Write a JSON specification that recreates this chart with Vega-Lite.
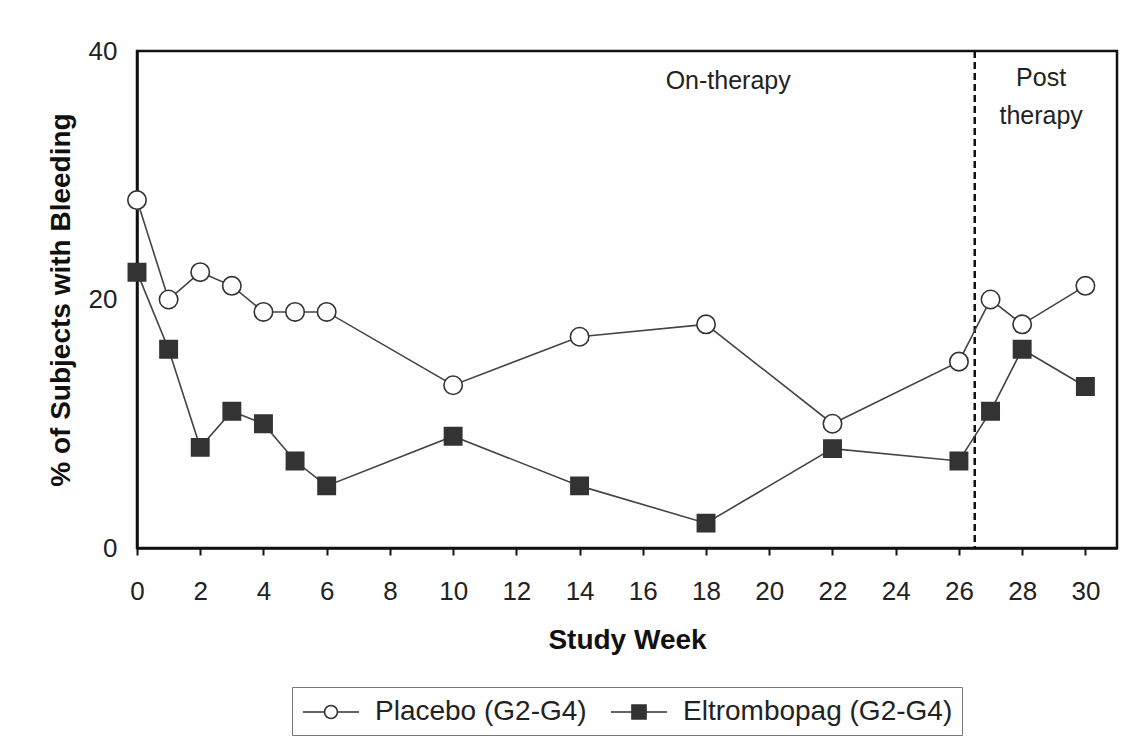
{
  "$schema": "https://vega.github.io/schema/vega-lite/v6.json",
  "width": 980,
  "height": 497,
  "autosize": {"type": "none"},
  "padding": {"left": 137, "top": 51, "right": 29, "bottom": 192},
  "background": "white",
  "config": {
    "font": "Liberation Sans",
    "view": {"stroke": "#111", "strokeWidth": 2.5},
    "axis": {"domainColor": "#111", "domainWidth": 2.5, "grid": false, "labelFont": "Liberation Sans", "titleFont": "Liberation Sans", "labelColor": "#222", "titleColor": "#111"},
    "legend": {
      "title": null, "orient": "none", "direction": "horizontal", "legendX": 155, "legendY": 636,
      "padding": 9, "strokeColor": "#777", "fillColor": "white",
      "symbolSize": 900, "symbolOffset": 14, "symbolStrokeColor": "#333", "symbolStrokeWidth": 1.6, "symbolOpacity": 1,
      "labelFont": "Liberation Sans", "labelFontSize": 28, "labelColor": "#222", "labelOffset": 28, "columnPadding": 20,
      "labelLimit": 400
    }
  },
  "datasets": {
    "bleeding": [
      {"week": 0, "pct": 28, "series": "Placebo (G2-G4)"},
      {"week": 1, "pct": 20, "series": "Placebo (G2-G4)"},
      {"week": 2, "pct": 22.2, "series": "Placebo (G2-G4)"},
      {"week": 3, "pct": 21.1, "series": "Placebo (G2-G4)"},
      {"week": 4, "pct": 19, "series": "Placebo (G2-G4)"},
      {"week": 5, "pct": 19, "series": "Placebo (G2-G4)"},
      {"week": 6, "pct": 19, "series": "Placebo (G2-G4)"},
      {"week": 10, "pct": 13.1, "series": "Placebo (G2-G4)"},
      {"week": 14, "pct": 17, "series": "Placebo (G2-G4)"},
      {"week": 18, "pct": 18, "series": "Placebo (G2-G4)"},
      {"week": 22, "pct": 10, "series": "Placebo (G2-G4)"},
      {"week": 26, "pct": 15, "series": "Placebo (G2-G4)"},
      {"week": 27, "pct": 20, "series": "Placebo (G2-G4)"},
      {"week": 28, "pct": 18, "series": "Placebo (G2-G4)"},
      {"week": 30, "pct": 21.1, "series": "Placebo (G2-G4)"},
      {"week": 0, "pct": 22.2, "series": "Eltrombopag (G2-G4)"},
      {"week": 1, "pct": 16, "series": "Eltrombopag (G2-G4)"},
      {"week": 2, "pct": 8.1, "series": "Eltrombopag (G2-G4)"},
      {"week": 3, "pct": 11, "series": "Eltrombopag (G2-G4)"},
      {"week": 4, "pct": 10, "series": "Eltrombopag (G2-G4)"},
      {"week": 5, "pct": 7, "series": "Eltrombopag (G2-G4)"},
      {"week": 6, "pct": 5, "series": "Eltrombopag (G2-G4)"},
      {"week": 10, "pct": 9, "series": "Eltrombopag (G2-G4)"},
      {"week": 14, "pct": 5, "series": "Eltrombopag (G2-G4)"},
      {"week": 18, "pct": 2, "series": "Eltrombopag (G2-G4)"},
      {"week": 22, "pct": 8, "series": "Eltrombopag (G2-G4)"},
      {"week": 26, "pct": 7, "series": "Eltrombopag (G2-G4)"},
      {"week": 27, "pct": 11, "series": "Eltrombopag (G2-G4)"},
      {"week": 28, "pct": 16, "series": "Eltrombopag (G2-G4)"},
      {"week": 30, "pct": 13, "series": "Eltrombopag (G2-G4)"}
    ],
    "notes": [
      {"week": 18.7, "pct": 37.6, "label": "On-therapy"},
      {"week": 28.6, "pct": 37.8, "label": "Post"},
      {"week": 28.6, "pct": 34.8, "label": "therapy"}
    ]
  },
  "layer": [
    {
      "data": {"values": [{"week": 26.5}]},
      "mark": {"type": "rule", "color": "#111", "strokeWidth": 2.5, "strokeDash": [7, 4]},
      "encoding": {
        "x": {"field": "week", "type": "quantitative", "scale": {"domain": [0, 31], "nice": false}}
      }
    },
    {
      "data": {"name": "bleeding"},
      "mark": {"type": "point", "opacity": 0, "size": 900, "strokeWidth": 1.6, "filled": true},
      "encoding": {
        "x": {"field": "week", "type": "quantitative"},
        "y": {"field": "pct", "type": "quantitative"},
        "shape": {"field": "series", "type": "nominal", "title": null,
          "scale": {"domain": ["Placebo (G2-G4)", "Eltrombopag (G2-G4)"],
            "range": ["M-1.87,0H-0.43M0.43,0H1.87M-0.43,0A0.43,0.43,0,1,1,0.43,0A0.43,0.43,0,1,1,-0.43,0Z", "M-1.87,0H1.87M-0.47,-0.47H0.47V0.47H-0.47Z"]}},
        "fill": {"field": "series", "type": "nominal", "title": null,
          "scale": {"domain": ["Placebo (G2-G4)", "Eltrombopag (G2-G4)"], "range": ["#ffffff", "#333333"]}},
        "stroke": {"field": "series", "type": "nominal", "title": null,
          "scale": {"domain": ["Placebo (G2-G4)", "Eltrombopag (G2-G4)"], "range": ["#333333", "#333333"]}}
      }
    },
    {
      "data": {"name": "bleeding"},
      "mark": {"type": "line", "color": "#444", "strokeWidth": 1.6},
      "encoding": {
        "x": {"field": "week", "type": "quantitative", "scale": {"domain": [0, 31], "nice": false},
          "axis": {"title": "Study Week", "values": [0,1,2,3,4,5,6,7,8,9,10,11,12,13,14,15,16,17,18,19,20,21,22,23,24,25,26,27,28,29,30,31],
            "labelExpr": "datum.value % 2 == 0 && datum.value <= 30 ? datum.label : ''",
            "tickColor": "#111", "tickSize": 7, "tickWidth": 2, "labelPadding": 23, "labelFontSize": 26, "labelFlush": false, "labelOverlap": false,
            "titleFontSize": 28, "titleFontWeight": "bold", "titlePadding": 22}},
        "y": {"field": "pct", "type": "quantitative", "scale": {"domain": [0, 40], "nice": false},
          "axis": {"title": "% of Subjects with Bleeding", "values": [0, 20, 40], "ticks": false, "tickSize": 0, "labelPadding": 20, "labelFontSize": 26,
            "titleFontSize": 28, "titleFontWeight": "bold", "titlePadding": 13}},
        "detail": {"field": "series", "type": "nominal"}
      }
    },
    {
      "data": {"name": "bleeding"},
      "transform": [{"filter": "datum.series == 'Placebo (G2-G4)'"}],
      "mark": {"type": "point", "shape": "circle", "filled": true, "fill": "#ffffff", "stroke": "#333", "strokeWidth": 1.6, "opacity": 1, "size": 340},
      "encoding": {
        "x": {"field": "week", "type": "quantitative"},
        "y": {"field": "pct", "type": "quantitative"}
      }
    },
    {
      "data": {"name": "bleeding"},
      "transform": [{"filter": "datum.series == 'Eltrombopag (G2-G4)'"}],
      "mark": {"type": "point", "shape": "square", "filled": true, "fill": "#333333", "stroke": "#333", "strokeWidth": 1.6, "opacity": 1, "size": 300},
      "encoding": {
        "x": {"field": "week", "type": "quantitative"},
        "y": {"field": "pct", "type": "quantitative"}
      }
    },
    {
      "data": {"name": "notes"},
      "mark": {"type": "text", "font": "Liberation Sans", "fontSize": 25, "color": "#222", "align": "center", "baseline": "middle"},
      "encoding": {
        "x": {"field": "week", "type": "quantitative"},
        "y": {"field": "pct", "type": "quantitative"},
        "text": {"field": "label"}
      }
    }
  ]
}
